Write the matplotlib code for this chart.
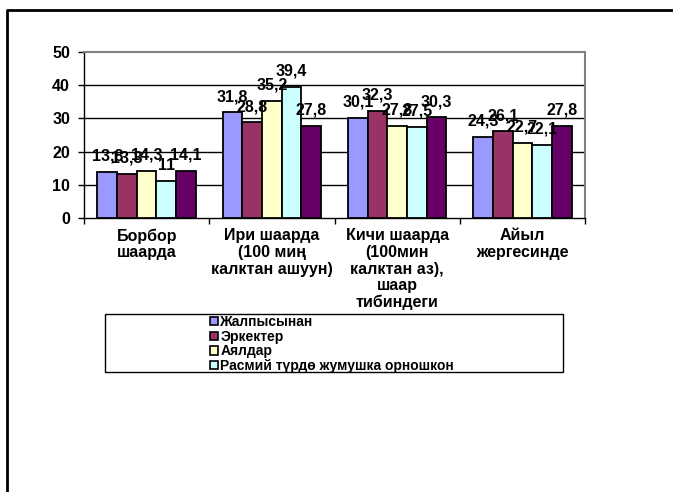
import matplotlib.pyplot as plt
from matplotlib.lines import Line2D
from matplotlib.patches import Rectangle, Patch
import numpy as np

plt.rcParams['font.family'] = ['Liberation Sans', 'DejaVu Sans']
plt.rcParams['font.weight'] = 'bold'

# categories and series
categories = ["Борбор\nшаарда",
              "Ири шаарда\n(100 миң\nкалктан ашуун)",
              "Кичи шаарда\n(100мин\nкалктан аз),\nшаар\nтибиндеги",
              "Айыл\nжергесинде"]
series_names = ["Жалпысынан", "Эркектер", "Аялдар",
                "Расмий түрдө жумушка орношкон", "Расмий эмес"]
jalpy = [13.8, 31.8, 30.1, 24.3]
erkek = [13.3, 28.8, 32.3, 26.1]
ayal = [14.3, 35.2, 27.8, 22.7]
rasmiy = [11, 39.4, 27.5, 22.1]
other = [14.1, 27.8, 30.3, 27.8]
values = [jalpy, erkek, ayal, rasmiy, other]
colors = ["#9999FF", "#993366", "#FFFFCC", "#CCFFFF", "#660066"]

W, H = 673, 492
fig = plt.figure(figsize=(W / 100, H / 100), dpi=100)
ax = fig.add_axes([84 / W, 1 - 218 / H, (585 - 84) / W, (218 - 52) / H])

x = np.arange(len(categories))
bw = 0.157
for i, (vals, c) in enumerate(zip(values, colors)):
    pos = x + (i - 2) * bw
    ax.bar(pos, vals, width=bw, color=c, edgecolor='black', linewidth=1.3, zorder=3)
    for px, v in zip(pos, vals):
        ax.annotate(f"{v:g}".replace('.', ','), xy=(px, v), xytext=(0, 6),
                    textcoords='offset points', ha='center', va='bottom',
                    fontsize=11.5, fontweight='bold', zorder=4)

ax.set_xlim(-0.5, 3.5)
ax.set_ylim(0, 50)
ax.set_yticks(range(0, 51, 10))
ax.tick_params(axis='y', labelsize=11.5, length=4, width=1, pad=6)
for lab in ax.get_yticklabels():
    lab.set_fontweight('bold')
for yv in range(10, 50, 10):
    ax.axhline(yv, color='black', linewidth=1, zorder=1)

ax.set_xticks(np.arange(-0.5, 4, 1))
ax.set_xticklabels([])
ax.tick_params(axis='x', which='major', length=4, width=1)
ax.set_xticks(x, minor=True)
ax.set_xticklabels(categories, minor=True, fontsize=11.5, fontweight='bold',
                   linespacing=1.13)
ax.tick_params(axis='x', which='minor', length=0, pad=7.5)

for s in ['top', 'right']:
    ax.spines[s].set_color('#808080')
    ax.spines[s].set_linewidth(1.5)
for s in ['left', 'bottom']:
    ax.spines[s].set_color('black')
    ax.spines[s].set_linewidth(1)

# legend box (truncated, first four entries)
handles = [Patch(facecolor=c, edgecolor='black', linewidth=1.2) for c in colors[:4]]
fig.legend(handles, series_names[:4], loc='upper left',
           bbox_to_anchor=(210 / W, 1 - 315 / H), frameon=False,
           prop={'size': 10, 'weight': 'bold'}, handlelength=0.55, handleheight=0.55,
           handletextpad=0.2, labelspacing=0.05, borderpad=0, borderaxespad=0)
fig.add_artist(Rectangle((105 / W, 1 - 372 / H), (563 - 105) / W, (372 - 314) / H,
                         transform=fig.transFigure, fill=False, edgecolor='black',
                         linewidth=1))

# outer frame
fig.add_artist(Line2D([7 / W, 7 / W, 1], [0, 1 - 10 / H, 1 - 10 / H],
                      transform=fig.transFigure, color='black', linewidth=2))

fig.savefig("out.png", dpi=100)
